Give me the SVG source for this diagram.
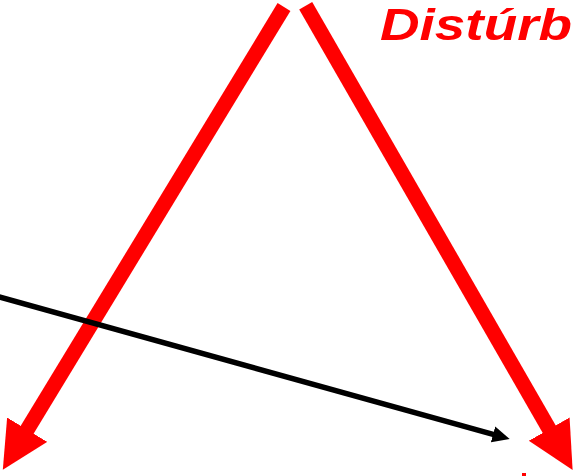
<svg xmlns="http://www.w3.org/2000/svg" width="575" height="476" viewBox="0 0 575 476">
<style>
.red{stroke:#ff0000;stroke-width:15;fill:none;stroke-linecap:butt}
.blk{stroke:#000;stroke-width:5.5;fill:none}
.lbl{font-family:"Liberation Sans",Arial,sans-serif;font-weight:bold;font-style:italic;font-size:45px;fill:#ff0000}
</style>
<defs>
<marker id="rh" markerUnits="userSpaceOnUse" markerWidth="48" markerHeight="48" refX="1" refY="23.5" orient="auto" viewBox="0 0 48 48">
<path d="M0,0 L47,23.5 L0,47 z" fill="#ff0000"/>
</marker>
<marker id="bh" markerUnits="userSpaceOnUse" markerWidth="18" markerHeight="17" refX="1" refY="8.2" orient="auto" viewBox="0 0 18 17">
<path d="M0,0 L17.3,8.2 L0,16.4 z" fill="#000"/>
</marker>
</defs>
<rect width="575" height="476" fill="#fff"/>
<g id="connectors">
<line class="red" x1="284" y1="7" x2="26.7" y2="430.5" marker-end="url(#rh)"/>
<line class="red" x1="305.7" y1="5.7" x2="549.7" y2="430" marker-end="url(#rh)"/>
<line class="blk" x1="-2" y1="296.5" x2="494" y2="434.6" marker-end="url(#bh)"/>
</g>
<g id="label">
<text class="lbl" x="380" y="40" textLength="192" lengthAdjust="spacingAndGlyphs">Distúrb</text>
</g>
<rect x="522" y="473" width="4" height="3" fill="#ff0000"/>
</svg>
